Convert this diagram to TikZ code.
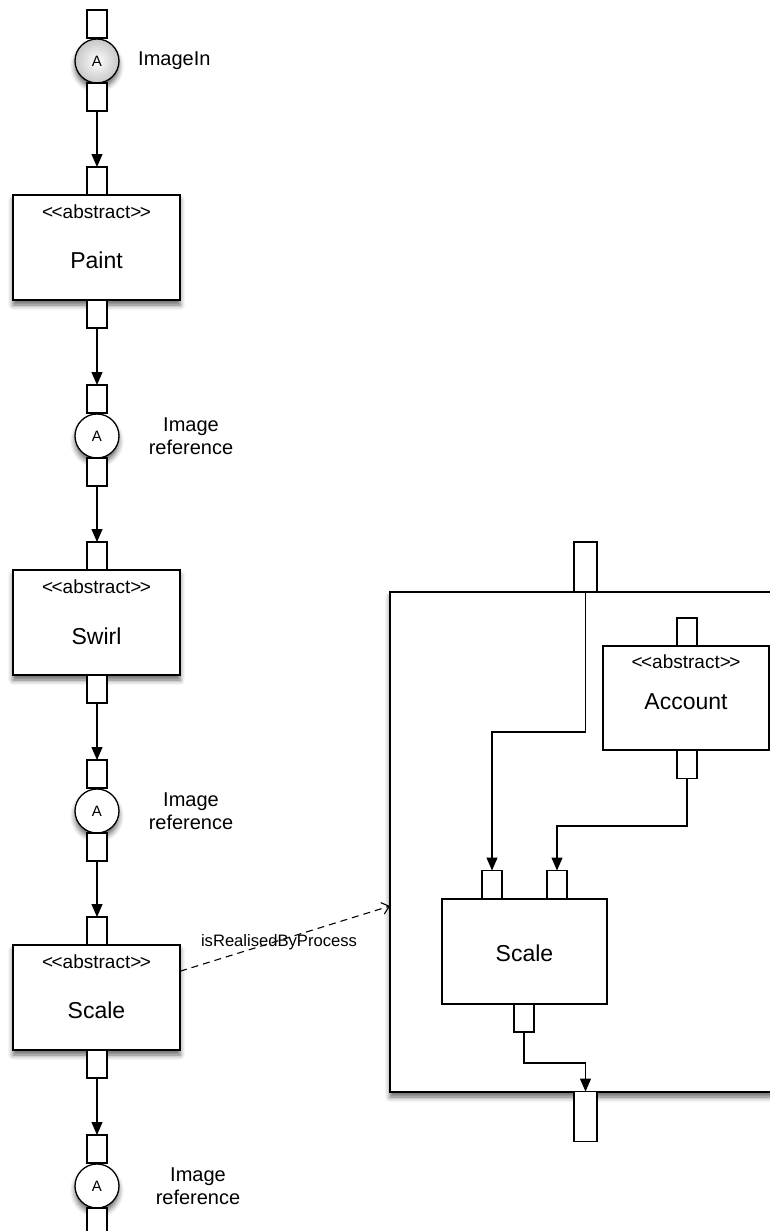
\documentclass[tikz,border=0pt]{standalone}
\usepackage{fontspec}
\setmainfont{Liberation Sans}
\usetikzlibrary{arrows.meta,calc,shadows.blur}

% stereotype text; the kern keeps << and >> from turning into guillemets
\newcommand\stereoabstract{<\kern-1.5pt<abstract>\kern-1.5pt>}

\begin{document}
\begin{tikzpicture}[x=1pt,y=-1pt,
  pin/.style={draw,fill=white,line width=1.2pt,minimum width=20pt,minimum height=28pt,inner sep=0pt,outer sep=0pt},
  bigpin/.style={pin,minimum width=23pt,minimum height=50pt},
  task/.style={draw,fill=white,line width=1.4pt,minimum width=167pt,minimum height=105pt,inner sep=0pt,outer sep=0pt},
  shadowed/.style={blur shadow={shadow xshift=0pt,shadow yshift=-5pt,shadow blur radius=5pt,shadow opacity=60}},
  anchorcirc/.style={circle,draw,fill=white,line width=1.3pt,minimum size=44pt,inner sep=0pt,outer sep=0pt,font=\fontsize{15}{18}\selectfont},
  stereo/.style={inner sep=0pt,font=\fontsize{19}{22}\selectfont},
  title/.style={inner sep=0pt,font=\fontsize{23}{27}\selectfont},
  lbl/.style={align=center,inner sep=0pt,font=\fontsize{20}{23.5}\selectfont},
  flow/.style={line width=1.2pt,-{Triangle[length=13pt,width=11pt]}},
  realise/.style={line width=1.1pt,dash pattern=on 7pt off 5pt,-{Straight Barb[length=7pt,width=12pt]}},
]
\useasboundingbox (0,0) rectangle (770,1231);
\clip (0,0) rectangle (770,1231);

% ---------------- left column: abstract process chain ----------------
% ImageIn anchor
\node[pin] (p0t) at (97,24) {};
\node[anchorcirc,shadowed,inner color=white,outer color=black!22] (a0) at (97,61) {A};
\node[pin] (p0b) at (97,97) {};
\node[lbl,anchor=west] (l0) at (138,61) {ImageIn};

% Paint
\node[pin] (paintin) at (97,181) {};
\node[task,shadowed] (paint) at (96.5,247.5) {};
\node[stereo] (paintst) at (96.5,211.5) {\stereoabstract};
\node[title] (paintnm) at (96.5,260) {Paint};
\node[pin] (paintout) at (97,314) {};
\draw[flow] (p0b) -- (paintin);

% Image reference 1
\node[pin] (p1t) at (97,399) {};
\node[anchorcirc,shadowed] (a1) at (97,436) {A};
\node[pin] (p1b) at (97,472) {};
\node[lbl] (l1) at (191,436) {Image\\reference};
\draw[flow] (paintout) -- (p1t);

% Swirl
\node[pin] (swirlin) at (97,556) {};
\node[task,shadowed] (swirl) at (96.5,622.5) {};
\node[stereo] (swirlst) at (96.5,586.5) {\stereoabstract};
\node[title] (swirlnm) at (96.5,636) {Swirl};
\node[pin] (swirlout) at (97,689) {};
\draw[flow] (p1b) -- (swirlin);

% Image reference 2
\node[pin] (p2t) at (97,774) {};
\node[anchorcirc,shadowed] (a2) at (97,811) {A};
\node[pin] (p2b) at (97,847) {};
\node[lbl] (l2) at (191,811) {Image\\reference};
\draw[flow] (swirlout) -- (p2t);

% Scale (abstract)
\node[pin] (scalein) at (97,931) {};
\node[task,shadowed] (scale) at (96.5,997.5) {};
\node[stereo] (scalest) at (96.5,961.5) {\stereoabstract};
\node[title] (scalenm) at (96.5,1010) {Scale};
\node[pin] (scaleout) at (97,1064) {};
\draw[flow] (p2b) -- (scalein);

% Image reference 3
\node[pin] (p3t) at (97,1149) {};
\node[anchorcirc,shadowed] (a3) at (97,1186) {A};
\node[pin] (p3b) at (97,1222) {};
\node[lbl] (l3) at (198,1186) {Image\\reference};
\draw[flow] (scaleout) -- (p3t);

% ---------------- right: realising process ----------------
\node[draw,fill=white,line width=1.4pt,shadowed,minimum width=410pt,minimum height=500pt,
      inner sep=0pt,outer sep=0pt] (proc) at (595,842) {};
\node[bigpin] (ptop) at (585.5,567) {};
\node[bigpin] (pbot) at (585.5,1116.5) {};

% Account
\node[pin] (accin) at (687,632) {};
\node[task,minimum width=166pt,minimum height=104pt] (acc) at (686,698) {};
\node[stereo] (accst) at (686,662) {\stereoabstract};
\node[title] (accnm) at (686,702) {Account};
\node[pin] (accout) at (687,764.5) {};

% Scale (concrete)
\node[pin] (sin1) at (492,884.5) {};
\node[pin] (sin2) at (557,884.5) {};
\node[task,minimum width=165pt,minimum height=105pt] (cscale) at (524.5,951.5) {};
\node[title] (cscalenm) at (524.5,953) {Scale};
\node[pin] (sout) at (524,1018) {};

% internal flows
\coordinate (k1) at (492,732);
\coordinate (k2) at (557,826);
\coordinate (k3) at (585.5,1063);
\draw[flow] (ptop.south) |- (k1) -- (sin1.north);
\draw[flow] (accout.south) |- (k2) -- (sin2.north);
\draw[flow] (sout.south) |- (k3) -- (pbot.north);

% realisation link
\draw[realise] ($(scale.north east)!0.25!(scale.south east)$) -- ($(proc.north west)!0.628!(proc.south west)$);
\node[inner sep=0pt,font=\fontsize{16.6}{19}\selectfont] (rl) at (279,942) {isRealisedByProcess};
\end{tikzpicture}
\end{document}
